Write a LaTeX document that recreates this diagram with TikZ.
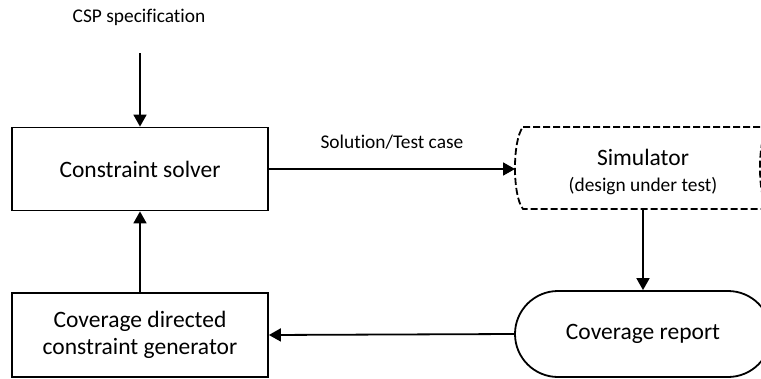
\documentclass[tikz,border=0pt]{standalone}
\usepackage{fontspec}
\setmainfont{Carlito}[Ligatures=NoCommon]
\usetikzlibrary{arrows.meta,shapes.misc}

\begin{document}
\begin{tikzpicture}[x=1pt,y=-1pt,
  box/.style={draw, line width=1.8pt, minimum width=256pt, align=center,
    font=\fontsize{23.5}{27.6}\selectfont, inner sep=0pt},
  lbl/.style={font=\fontsize{19.4}{23}\selectfont, inner sep=0pt},
  big/.style={font=\fontsize{23.5}{27.6}\selectfont, inner sep=0pt},
  arr/.style={line width=1.8pt, -{Triangle[length=12pt,width=13pt]}},
  dashline/.style={line width=1.8pt, dash pattern=on 7pt off 3pt},
]
\useasboundingbox (0,0) rectangle (761,378);

% blocks on the left
\node[box, minimum height=83pt] (solver) at (140,169) {Constraint solver};
\node[box, minimum height=84pt] (gen) at (140,335) {Coverage directed\\constraint generator};
\node[lbl] (csp) at (139,17) {CSP specification};

% simulator (stored-data outline, dashed)
\draw[dashline] (523,127) -- (768,127)
  .. controls (757.3,140) and (757.3,196) .. (768,209)
  -- (523,209)
  .. controls (512.3,196) and (512.3,140) .. (523,127);
\coordinate (simW) at (515,169);
\coordinate (simS) at (643,209);
\node[big] (simtitle) at (643,157) {Simulator};
\node[lbl] (simsub) at (643,186) {(design under test)};

% coverage report
\node[draw, line width=1.8pt, rounded rectangle, minimum width=256pt,
  minimum height=86pt, big] (cov) at (643,334) {Coverage report};

% connectors
\draw[arr, shorten <=28pt] (csp.south -| solver.north) -- (solver.north);
\draw[arr] (solver.east) -- node[lbl, midway, yshift=27pt] {Solution/Test case} (simW);
\draw[arr] (simS) -- (cov.north);
\draw[arr] (cov.west) -- (gen.east);
\draw[arr] (gen.north) -- (solver.south);
\end{tikzpicture}
\end{document}
